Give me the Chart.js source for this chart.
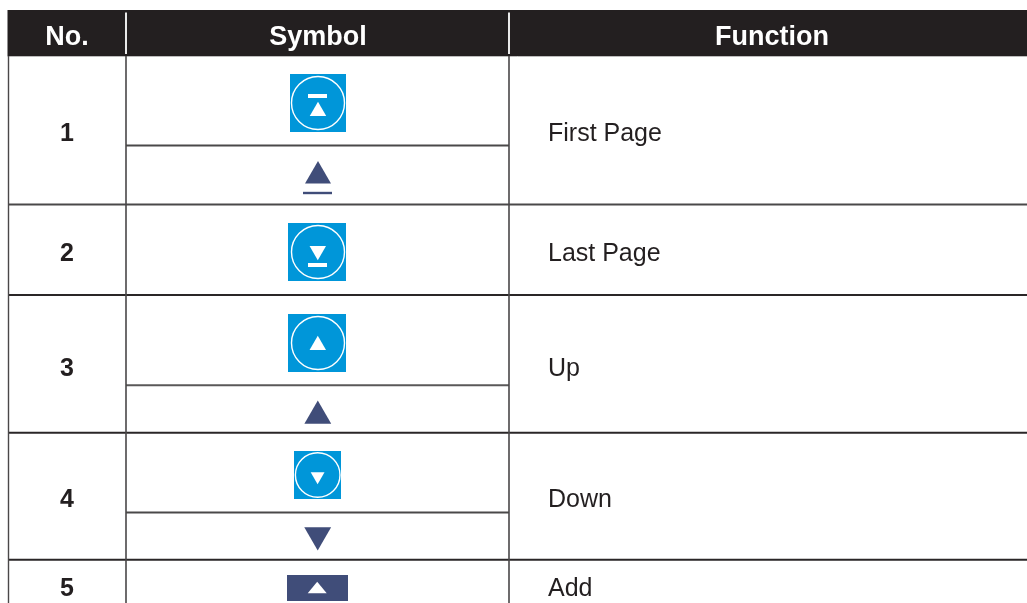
<!DOCTYPE html>
<html lang="en">
<head>
    <meta charset="UTF-8">
    <title>Symbol Table</title>
    <script src="https://cdn.jsdelivr.net/npm/chart.js"></script>
    <style>
        body { margin: 0; padding: 0; background: #fff; overflow: hidden; }
        canvas { display: block; }
    </style>
</head>
<body>
    <canvas id="table-chart" width="1027" height="603"></canvas>
    <script>
        // table content
        const headers = ['No.', 'Symbol', 'Function'];
        const rowNumbers = ['1', '2', '3', '4', '5'];
        const functionNames = ['First Page', 'Last Page', 'Up', 'Down', 'Add'];

        // layout, in page units (the axes run 0-1027 and 0-603)
        const headerCentres = [67, 318, 772];
        const rowBaselines = [141, 261, 376, 507, 596];
        const numberX = 67;
        const functionX = 548;
        const colLines = [8.5, 126, 509];
        const headerTop = 10, headerBottom = 56;

        const INK = '#231f20';
        const RULE = '#2a2627';
        const BLUE = '#0096d9';
        const NAVY = '#404d79';
        const WHITE = '#ffffff';

        const datasets = [];

        function band(x1, x2, y1, y2, color) {
            const y = (y1 + y2) / 2;
            datasets.push({
                data: [{ x: x1, y }, { x: x2, y }],
                showLine: true, borderColor: color, borderWidth: y2 - y1, pointRadius: 0
            });
        }
        function hRule(y, x1, x2, width, color) {
            band(x1, x2, y - width / 2, y + width / 2, color || RULE);
        }
        function vRule(x, y1, y2, width, color) {
            datasets.push({
                data: [{ x, y: y1 }, { x, y: y2 }],
                showLine: true, borderColor: color || RULE, borderWidth: width, pointRadius: 0
            });
        }
        function triangle(x, y, r, color, down) {
            datasets.push({
                data: [{ x, y }],
                pointStyle: 'triangle', pointRadius: r, pointRotation: down ? 180 : 0,
                pointBackgroundColor: color, pointBorderColor: color, pointBorderWidth: 0
            });
        }
        function ring(x, y, r) {
            datasets.push({
                data: [{ x, y }],
                pointStyle: 'circle', pointRadius: r,
                pointBackgroundColor: 'rgba(0,0,0,0)', pointBorderColor: WHITE, pointBorderWidth: 1.4
            });
        }

        // header
        band(7.5, 1027, headerTop, headerBottom, INK);
        hRule(56.5, 7.5, 1027, 1, '#bdbcbc');

        // rows
        hRule(145.5, 126, 509, 2, '#4a4849');
        hRule(204.5, 8, 1027, 2, '#4a4849');
        hRule(295, 8, 1027, 2);
        hRule(385.3, 126, 509, 2, '#5a5859');
        hRule(432.8, 8, 1027, 2);
        hRule(512.5, 126, 509, 2, '#4a4849');
        hRule(559.7, 8, 1027, 2);

        colLines.forEach(x => vRule(x, headerBottom, 603, x === 8.5 ? 1.4 : 1.6, '#4a4849'));
        vRule(126, 12.5, 54, 1.8, WHITE);
        vRule(509, 12.5, 54, 1.8, WHITE);

        // row 1
        band(290, 346, 74, 132, BLUE);
        ring(318, 103, 26.5);
        band(308, 327, 94, 98, WHITE);
        triangle(318, 111.2, 9.5, WHITE);
        triangle(318, 176, 15, NAVY);
        band(303, 332, 191.8, 194.2, NAVY);

        // row 2
        band(288, 346, 223, 281, BLUE);
        ring(318, 252, 26.5);
        triangle(317.8, 250.8, 9.5, WHITE, true);
        band(308, 327, 263, 267, WHITE);

        // row 3
        band(288, 346, 314, 372, BLUE);
        ring(318, 343, 26.5);
        triangle(317.8, 345.2, 9.5, WHITE);
        triangle(317.8, 416, 15.5, NAVY);

        // row 4
        band(294, 341, 451, 499, BLUE);
        ring(317.7, 475, 22.3);
        triangle(317.6, 476.3, 8, WHITE, true);
        triangle(317.7, 535, 15.5, NAVY, true);

        // row 5, flatter triangle than the point style gives
        band(287, 348, 575, 601, NAVY);
        datasets.push({
            data: [{ x: 307.7, y: 593.3 }, { x: 317.2, y: 581.7 }, { x: 326.7, y: 593.3 }, { x: 307.7, y: 593.3 }],
            showLine: true, fill: 'shape', backgroundColor: WHITE, borderColor: WHITE, borderWidth: 0, pointRadius: 0
        });

        // the text sits on top, placed through the scales
        const tableText = {
            id: 'tableText',
            afterDatasetsDraw(chart) {
                const { ctx, scales: { x, y } } = chart;
                ctx.save();
                ctx.textBaseline = 'alphabetic';
                ctx.fillStyle = WHITE;
                ctx.textAlign = 'center';
                ctx.font = 'bold 27px "Liberation Sans", Arial, sans-serif';
                headers.forEach((h, i) => ctx.fillText(h, x.getPixelForValue(headerCentres[i]), y.getPixelForValue(45)));
                ctx.fillStyle = INK;
                ctx.font = 'bold 25px "Liberation Sans", Arial, sans-serif';
                rowNumbers.forEach((n, i) => ctx.fillText(n, x.getPixelForValue(numberX), y.getPixelForValue(rowBaselines[i])));
                ctx.textAlign = 'left';
                ctx.font = '25px "Liberation Sans", Arial, sans-serif';
                functionNames.forEach((f, i) => ctx.fillText(f, x.getPixelForValue(functionX), y.getPixelForValue(rowBaselines[i])));
                ctx.restore();
            }
        };

        new Chart(document.getElementById('table-chart'), {
            type: 'scatter',
            // the library paints the first dataset last, so flip the list
            data: { datasets: datasets.reverse() },
            options: {
                responsive: false,
                animation: false,
                layout: { padding: 0, autoPadding: false },
                plugins: { legend: { display: false }, tooltip: { enabled: false } },
                scales: {
                    x: { type: 'linear', min: 0, max: 1027, display: false },
                    y: { type: 'linear', min: 0, max: 603, reverse: true, display: false }
                }
            },
            plugins: [tableText]
        });
    </script>
</body>
</html>
